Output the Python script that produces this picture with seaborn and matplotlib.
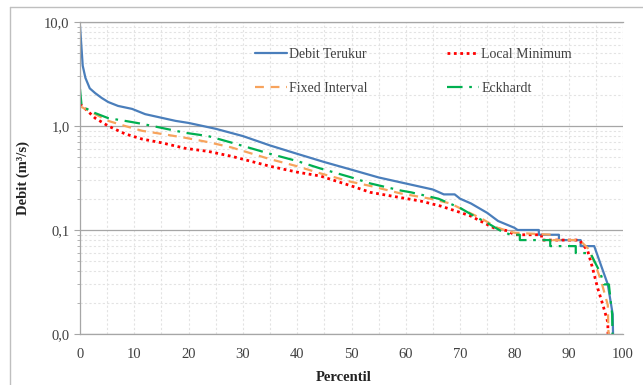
import numpy as np
import pandas as pd
import matplotlib
matplotlib.use("Agg")
import matplotlib.pyplot as plt
import seaborn as sns
from matplotlib.ticker import FixedLocator, LogLocator, FuncFormatter, NullFormatter
from matplotlib.lines import Line2D

# flow duration curves (percentile, discharge m3/s)
p_obs = [0, 0.5, 1, 1.8, 2.8, 4, 5.2, 7, 9.6, 12, 15, 17.6, 20, 25, 30, 35, 40, 45, 50, 55, 60, 65, 67, 69, 70, 72, 75, 77, 80,
         80.6, 84.5, 84.5, 88.2, 88.2, 92.2, 92.2, 94.7, 96, 97.2, 98.1, 98.5]
q_obs = [9.2, 3.8, 2.9, 2.3, 2.07, 1.86, 1.7, 1.56, 1.46, 1.3, 1.2, 1.12, 1.07, 0.94, 0.8, 0.65, 0.54, 0.45, 0.38, 0.32, 0.28, 0.245, 0.22, 0.22, 0.2, 0.18, 0.146, 0.122, 0.105,
         0.1, 0.1, 0.09, 0.09, 0.08, 0.08, 0.07, 0.07, 0.045, 0.03, 0.0155, 0.001]

p_lm = [0, 2.8, 5.2, 8.3, 11.4, 15, 19.4, 23.6, 28, 35, 40, 44.3, 50, 53.5, 59, 62.7, 66.4, 69.6, 72, 74.4, 76.2, 78.8,
        80, 85, 85, 92, 93.5, 94.4, 95.3, 96.3, 97.2, 97.6]
q_lm = [1.63, 1.19, 1.0, 0.84, 0.75, 0.69, 0.61, 0.57, 0.51, 0.41, 0.36, 0.33, 0.265, 0.23, 0.205, 0.19, 0.17, 0.15, 0.136, 0.117, 0.105, 0.098,
        0.09, 0.09, 0.08, 0.08, 0.063, 0.043, 0.028, 0.019, 0.013, 0.001]

p_fi = [0, 2.8, 5.2, 8.3, 11.4, 15, 19.4, 23.6, 28, 35, 40, 44.3, 50, 53.5, 59, 64.5, 68.2, 71.3, 73.8, 76.9, 80,
        87, 87, 92, 93.5, 94.7, 96, 97.2, 97.8]
q_fi = [1.55, 1.3, 1.12, 1.0, 0.9, 0.84, 0.77, 0.7, 0.62, 0.48, 0.41, 0.35, 0.29, 0.265, 0.225, 0.2, 0.18, 0.15, 0.13, 0.105, 0.094,
        0.09, 0.08, 0.08, 0.067, 0.05, 0.032, 0.019, 0.001]

p_ek = [0, 0.3, 2.8, 5.2, 8.3, 11.4, 15, 19.4, 23.6, 28, 35, 40, 44.3, 50, 53.5, 59, 61, 66, 70, 72.6, 75, 77.5, 79.3,
        81, 81, 86.6, 86.6, 91.3, 91.3, 94, 95, 95.8, 96.5, 97.4, 98, 98.4]
q_ek = [2.27, 1.55, 1.33, 1.19, 1.12, 1.05, 0.96, 0.86, 0.8, 0.69, 0.54, 0.46, 0.39, 0.32, 0.28, 0.24, 0.23, 0.2, 0.163, 0.136, 0.117, 0.098, 0.09,
        0.09, 0.08, 0.08, 0.07, 0.07, 0.06, 0.06, 0.047, 0.039, 0.03, 0.03, 0.0155, 0.001]

labels = ["Debit Terukur", "Local Minimum", "Fixed Interval", "Eckhardt"]
y_ticks = [0.01, 0.1, 1, 10]
y_ticklabels = ["0,0", "0,1", "1,0", "10,0"]

sns.set_style("white")
plt.rcParams["font.family"] = ["Liberation Serif", "DejaVu Serif"]

fig = plt.figure(figsize=(6.43, 3.85), dpi=100)
ax = fig.add_axes([80 / 643, 51 / 385, 543 / 643, 312 / 385])

series = [
    (p_obs, q_obs, "#4a7ebb", "-", 1.6),
    (p_lm, q_lm, "#ff0000", (0, (1, 1.3)), 2.0),
    (p_fi, q_fi, "#f7a35c", (0, (4, 3)), 1.6),
    (p_ek, q_ek, "#00b050", (0, (7, 3, 1.2, 3)), 1.6),
]
for (px, qy, col, ls, lw), lab in zip(series, labels):
    df = pd.DataFrame({"p": px, "q": qy})
    sns.lineplot(data=df, x="p", y="q", ax=ax, color=col, linestyle=ls, lw=lw,
                 sort=False, estimator=None, label=lab)

ax.set_yscale("log")
ax.set_ylim(0.01, 10)
ax.set_xlim(0, 100)
ax.set_xticks(range(0, 101, 10))
ax.xaxis.set_minor_locator(FixedLocator(range(5, 100, 10)))
ax.yaxis.set_major_locator(FixedLocator(y_ticks))
ax.yaxis.set_major_formatter(FuncFormatter(lambda v, pos: y_ticklabels[y_ticks.index(v)] if v in y_ticks else ""))
ax.yaxis.set_minor_locator(LogLocator(base=10, subs=np.arange(2, 10)))
ax.yaxis.set_minor_formatter(NullFormatter())

ax.grid(True, which="major", axis="y", color="#a6a6a6", lw=0.9)
ax.grid(True, which="minor", axis="y", color="#e3e3e3", lw=0.8, ls=(0, (2, 2)))
ax.grid(True, which="both", axis="x", color="#e3e3e3", lw=0.8, ls=(0, (2, 2)))

ax.spines["right"].set_visible(False)
for s in ["left", "bottom", "top"]:
    ax.spines[s].set_color("#a6a6a6")
    ax.spines[s].set_linewidth(0.9)

ax.tick_params(axis="both", which="major", labelsize=10.5, labelcolor="#404040", colors="#a6a6a6",
               length=4, width=0.8, direction="out", left=True, bottom=False)
ax.tick_params(axis="x", labelcolor="#404040", pad=6)
ax.tick_params(axis="y", which="minor", length=2, left=True, colors="#a6a6a6")

ax.set_xlabel("Percentil", fontsize=10.5, fontweight="bold", color="#222222")
ax.xaxis.set_label_coords(0.485, -0.117)
ax.set_ylabel("Debit (m³/s)", fontsize=10.5, fontweight="bold", color="#222222", labelpad=10)

h, l = ax.get_legend_handles_labels()
order = [0, 2, 1, 3]
ax.legend([h[i] for i in order], [l[i] for i in order], ncol=2, frameon=False,
          loc="upper left", bbox_to_anchor=(0.30, 0.958), fontsize=10, handlelength=2.3,
          handletextpad=0.15, columnspacing=5.7, labelspacing=1.55, labelcolor="#404040")

# thin border of the chart area
fig.add_artist(Line2D([10 / 643, 1], [1 - 7 / 385, 1 - 7 / 385], color="#bfbfbf", lw=1))
fig.add_artist(Line2D([10 / 643, 10 / 643], [0, 1 - 7 / 385], color="#bfbfbf", lw=1))

fig.savefig("out.png", dpi=100)
